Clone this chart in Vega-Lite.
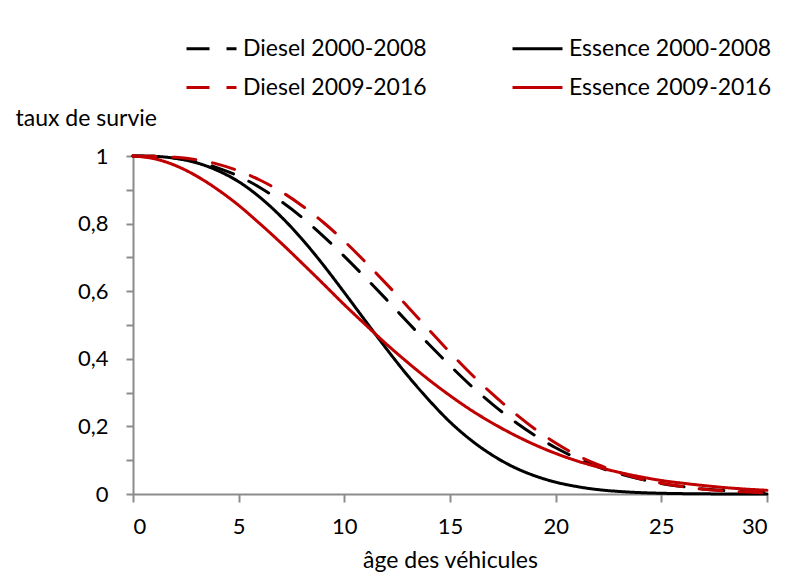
{
  "$schema": "https://vega.github.io/schema/vega-lite/v6.json",
  "width": 634,
  "height": 338,
  "autosize": {"type": "none"},
  "padding": {"left": 133, "top": 156, "right": 22, "bottom": 79},
  "background": "white",
  "config": {
    "font": "Lato, sans-serif",
    "view": {"stroke": null}
  },
  "data": {
    "values": [
      {"age": 0, "Diesel 2000-2008": 1, "Essence 2000-2008": 1, "Diesel 2009-2016": 1, "Essence 2009-2016": 1},
      {"age": 1, "Diesel 2000-2008": 0.999, "Essence 2000-2008": 0.999, "Diesel 2009-2016": 0.999, "Essence 2009-2016": 0.992},
      {"age": 2, "Diesel 2000-2008": 0.994, "Essence 2000-2008": 0.993, "Diesel 2009-2016": 0.996, "Essence 2009-2016": 0.972},
      {"age": 3, "Diesel 2000-2008": 0.983, "Essence 2000-2008": 0.980, "Diesel 2009-2016": 0.989, "Essence 2009-2016": 0.941},
      {"age": 4, "Diesel 2000-2008": 0.965, "Essence 2000-2008": 0.957, "Diesel 2009-2016": 0.976, "Essence 2009-2016": 0.901},
      {"age": 5, "Diesel 2000-2008": 0.940, "Essence 2000-2008": 0.924, "Diesel 2009-2016": 0.956, "Essence 2009-2016": 0.854},
      {"age": 6, "Diesel 2000-2008": 0.907, "Essence 2000-2008": 0.878, "Diesel 2009-2016": 0.929, "Essence 2009-2016": 0.800},
      {"age": 7, "Diesel 2000-2008": 0.866, "Essence 2000-2008": 0.821, "Diesel 2009-2016": 0.895, "Essence 2009-2016": 0.743},
      {"age": 8, "Diesel 2000-2008": 0.818, "Essence 2000-2008": 0.754, "Diesel 2009-2016": 0.853, "Essence 2009-2016": 0.683},
      {"age": 9, "Diesel 2000-2008": 0.763, "Essence 2000-2008": 0.678, "Diesel 2009-2016": 0.804, "Essence 2009-2016": 0.622},
      {"age": 10, "Diesel 2000-2008": 0.703, "Essence 2000-2008": 0.596, "Diesel 2009-2016": 0.748, "Essence 2009-2016": 0.560},
      {"age": 11, "Diesel 2000-2008": 0.640, "Essence 2000-2008": 0.512, "Diesel 2009-2016": 0.686, "Essence 2009-2016": 0.501},
      {"age": 12, "Diesel 2000-2008": 0.575, "Essence 2000-2008": 0.429, "Diesel 2009-2016": 0.621, "Essence 2009-2016": 0.443},
      {"age": 13, "Diesel 2000-2008": 0.508, "Essence 2000-2008": 0.350, "Diesel 2009-2016": 0.554, "Essence 2009-2016": 0.389},
      {"age": 14, "Diesel 2000-2008": 0.443, "Essence 2000-2008": 0.278, "Diesel 2009-2016": 0.486, "Essence 2009-2016": 0.338},
      {"age": 15, "Diesel 2000-2008": 0.380, "Essence 2000-2008": 0.213, "Diesel 2009-2016": 0.419, "Essence 2009-2016": 0.291},
      {"age": 16, "Diesel 2000-2008": 0.320, "Essence 2000-2008": 0.159, "Diesel 2009-2016": 0.355, "Essence 2009-2016": 0.248},
      {"age": 17, "Diesel 2000-2008": 0.266, "Essence 2000-2008": 0.115, "Diesel 2009-2016": 0.296, "Essence 2009-2016": 0.210},
      {"age": 18, "Diesel 2000-2008": 0.217, "Essence 2000-2008": 0.080, "Diesel 2009-2016": 0.242, "Essence 2009-2016": 0.176},
      {"age": 19, "Diesel 2000-2008": 0.174, "Essence 2000-2008": 0.054, "Diesel 2009-2016": 0.193, "Essence 2009-2016": 0.146},
      {"age": 20, "Diesel 2000-2008": 0.137, "Essence 2000-2008": 0.035, "Diesel 2009-2016": 0.151, "Essence 2009-2016": 0.120},
      {"age": 21, "Diesel 2000-2008": 0.106, "Essence 2000-2008": 0.022, "Diesel 2009-2016": 0.115, "Essence 2009-2016": 0.098},
      {"age": 22, "Diesel 2000-2008": 0.080, "Essence 2000-2008": 0.013, "Diesel 2009-2016": 0.087, "Essence 2009-2016": 0.080},
      {"age": 23, "Diesel 2000-2008": 0.060, "Essence 2000-2008": 0.0075, "Diesel 2009-2016": 0.064, "Essence 2009-2016": 0.064},
      {"age": 24, "Diesel 2000-2008": 0.044, "Essence 2000-2008": 0.0041, "Diesel 2009-2016": 0.045, "Essence 2009-2016": 0.051},
      {"age": 25, "Diesel 2000-2008": 0.031, "Essence 2000-2008": 0.0022, "Diesel 2009-2016": 0.032, "Essence 2009-2016": 0.040},
      {"age": 26, "Diesel 2000-2008": 0.022, "Essence 2000-2008": 0.0011, "Diesel 2009-2016": 0.022, "Essence 2009-2016": 0.032},
      {"age": 27, "Diesel 2000-2008": 0.015, "Essence 2000-2008": 0.0005, "Diesel 2009-2016": 0.014, "Essence 2009-2016": 0.025},
      {"age": 28, "Diesel 2000-2008": 0.010, "Essence 2000-2008": 0.0002, "Diesel 2009-2016": 0.0093, "Essence 2009-2016": 0.019},
      {"age": 29, "Diesel 2000-2008": 0.0065, "Essence 2000-2008": 0.0001, "Diesel 2009-2016": 0.0058, "Essence 2009-2016": 0.0145},
      {"age": 30, "Diesel 2000-2008": 0.0042, "Essence 2000-2008": 0, "Diesel 2009-2016": 0.0035, "Essence 2009-2016": 0.011}
    ]
  },
  "transform": [
    {"fold": ["Diesel 2000-2008", "Essence 2000-2008", "Diesel 2009-2016", "Essence 2009-2016"], "as": ["serie", "taux"]}
  ],
  "mark": {"type": "line", "strokeWidth": 3, "interpolate": "monotone", "strokeCap": "round"},
  "encoding": {
    "x": {
      "field": "age", "type": "quantitative",
      "scale": {"domain": [0, 30], "nice": false},
      "axis": {
        "title": "âge des véhicules",
        "values": [0, 5, 10, 15, 20, 25, 30],
        "grid": false,
        "domainColor": "#8c8c8c", "domainWidth": 2,
        "tickColor": "#8c8c8c", "tickWidth": 2, "tickSize": 8,
        "labelFontSize": 22, "labelColor": "black", "labelPadding": 14,
        "titleFontSize": 23, "titleFontWeight": "normal", "titleColor": "black",
        "titleY": 73, "titleBaseline": "alphabetic"
      }
    },
    "y": {
      "field": "taux", "type": "quantitative",
      "scale": {"domain": [0, 1], "nice": false},
      "axis": {
        "title": "taux de survie",
        "values": [0, 0.1, 0.2, 0.3, 0.4, 0.5, 0.6, 0.7, 0.8, 0.9, 1],
        "labelExpr": "round(datum.value*10) % 2 == 0 ? replace(format(datum.value, '.1~f'), '.', ',') : ''",
        "grid": false,
        "domainColor": "#8c8c8c", "domainWidth": 2,
        "tickColor": "#8c8c8c", "tickWidth": 2, "tickSize": 7,
        "labelFontSize": 22, "labelColor": "black", "labelPadding": 18,
        "titleFontSize": 23, "titleFontWeight": "normal", "titleColor": "black",
        "titleAngle": 0, "titleAlign": "left", "titleBaseline": "alphabetic",
        "titleX": -118, "titleY": -31,
        "encode": {"ticks": {"update": {"x": {"value": 7}, "x2": {"value": -7}}}}
      }
    },
    "color": {
      "field": "serie", "type": "nominal",
      "scale": {
        "domain": ["Diesel 2000-2008", "Essence 2000-2008", "Diesel 2009-2016", "Essence 2009-2016"],
        "range": ["#000000", "#000000", "#C00000", "#C00000"]
      },
      "legend": {
        "title": null,
        "orient": "none",
        "legendX": 52,
        "legendY": -134,
        "direction": "horizontal",
        "columns": 2,
        "columnPadding": 79,
        "rowPadding": -16,
        "symbolType": "stroke",
        "symbolSize": 2500,
        "symbolStrokeWidth": 3,
        "labelFontSize": 23,
        "labelColor": "black",
        "labelOffset": 5,
        "labelLimit": 300,
        "encode": {"symbols": {"update": {"strokeDash": {"signal": "test(/Diesel/, datum.value) ? [29, 12] : [1, 0]"}}}}
      }
    },
    "strokeDash": {
      "field": "serie", "type": "nominal",
      "scale": {
        "domain": ["Diesel 2000-2008", "Essence 2000-2008", "Diesel 2009-2016", "Essence 2009-2016"],
        "range": [[23, 17], [1, 0], [23, 17], [1, 0]]
      },
      "legend": null
    }
  }
}
